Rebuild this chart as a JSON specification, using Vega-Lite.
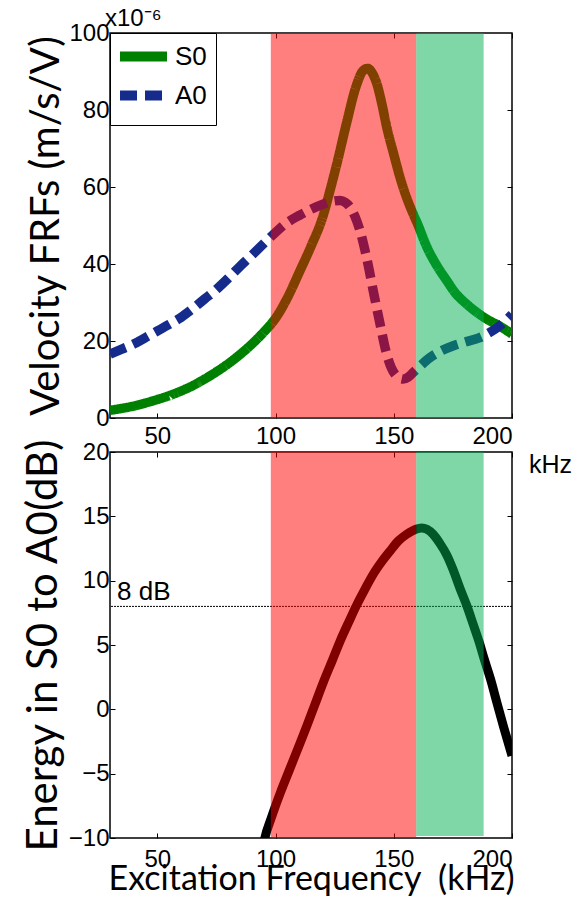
{
  "$schema": "https://vega.github.io/schema/vega-lite/v6.json",
  "background": "white",
  "padding": {"left": 21, "top": 6, "right": 0, "bottom": 0},
  "config": {
    "view": {"stroke": "black", "strokeWidth": 1.5},
    "axis": {
      "grid": false,
      "domain": false,
      "tickColor": "black",
      "tickSize": -5,
      "tickWidth": 1,
      "labelFont": "Liberation Sans",
      "labelFontSize": 24,
      "labelColor": "black",
      "titleFont": "Lato",
      "titleFontWeight": "normal",
      "titleColor": "black"
    },
    "legend": {
      "orient": "top-left",
      "offset": 0,
      "padding": 9,
      "strokeColor": "black",
      "fillColor": "white",
      "symbolType": "M-2.5,0H2.5",
      "symbolSize": 353,
      "symbolStrokeWidth": 10,
      "symbolOffset": 10,
      "labelFont": "Liberation Sans",
      "labelFontSize": 26,
      "labelColor": "black",
      "labelOffset": 17,
      "rowPadding": -2
    }
  },
  "datasets": {
    "frf": [
      {"freq": 30, "mode": "S0", "velocity": 2.0},
      {"freq": 35, "mode": "S0", "velocity": 2.5},
      {"freq": 40, "mode": "S0", "velocity": 3.1},
      {"freq": 45, "mode": "S0", "velocity": 3.9},
      {"freq": 50, "mode": "S0", "velocity": 4.8},
      {"freq": 55, "mode": "S0", "velocity": 5.8},
      {"freq": 60, "mode": "S0", "velocity": 7.0},
      {"freq": 65, "mode": "S0", "velocity": 8.4},
      {"freq": 70, "mode": "S0", "velocity": 10.1},
      {"freq": 75, "mode": "S0", "velocity": 12.0},
      {"freq": 80, "mode": "S0", "velocity": 14.1},
      {"freq": 85, "mode": "S0", "velocity": 16.5},
      {"freq": 90, "mode": "S0", "velocity": 19.2},
      {"freq": 95, "mode": "S0", "velocity": 22.3},
      {"freq": 100, "mode": "S0", "velocity": 25.9},
      {"freq": 105, "mode": "S0", "velocity": 31.2},
      {"freq": 110, "mode": "S0", "velocity": 37.8},
      {"freq": 115, "mode": "S0", "velocity": 44.6},
      {"freq": 120, "mode": "S0", "velocity": 52.3},
      {"freq": 123, "mode": "S0", "velocity": 59.0},
      {"freq": 126, "mode": "S0", "velocity": 66.2},
      {"freq": 130, "mode": "S0", "velocity": 76.5},
      {"freq": 134, "mode": "S0", "velocity": 86.0},
      {"freq": 137, "mode": "S0", "velocity": 90.2},
      {"freq": 139, "mode": "S0", "velocity": 90.8},
      {"freq": 141, "mode": "S0", "velocity": 89.5},
      {"freq": 143, "mode": "S0", "velocity": 86.5},
      {"freq": 145, "mode": "S0", "velocity": 81.5},
      {"freq": 147, "mode": "S0", "velocity": 75.6},
      {"freq": 150, "mode": "S0", "velocity": 68.5},
      {"freq": 152.6, "mode": "S0", "velocity": 62.6},
      {"freq": 155, "mode": "S0", "velocity": 58.0},
      {"freq": 158.2, "mode": "S0", "velocity": 53.0},
      {"freq": 160, "mode": "S0", "velocity": 50.5},
      {"freq": 164, "mode": "S0", "velocity": 44.4},
      {"freq": 168, "mode": "S0", "velocity": 39.8},
      {"freq": 172.4, "mode": "S0", "velocity": 35.7},
      {"freq": 176, "mode": "S0", "velocity": 32.5},
      {"freq": 180.8, "mode": "S0", "velocity": 29.6},
      {"freq": 185, "mode": "S0", "velocity": 27.5},
      {"freq": 189.3, "mode": "S0", "velocity": 25.7},
      {"freq": 195, "mode": "S0", "velocity": 23.8},
      {"freq": 200, "mode": "S0", "velocity": 21.8},
      {"freq": 30, "mode": "A0", "velocity": 16.6},
      {"freq": 35, "mode": "A0", "velocity": 17.9},
      {"freq": 40, "mode": "A0", "velocity": 19.2},
      {"freq": 45, "mode": "A0", "velocity": 20.9},
      {"freq": 50, "mode": "A0", "velocity": 22.6},
      {"freq": 55, "mode": "A0", "velocity": 24.3},
      {"freq": 60, "mode": "A0", "velocity": 26.1},
      {"freq": 65, "mode": "A0", "velocity": 28.4},
      {"freq": 70, "mode": "A0", "velocity": 30.9},
      {"freq": 75, "mode": "A0", "velocity": 33.4},
      {"freq": 80, "mode": "A0", "velocity": 36.3},
      {"freq": 85, "mode": "A0", "velocity": 39.4},
      {"freq": 90, "mode": "A0", "velocity": 42.3},
      {"freq": 95, "mode": "A0", "velocity": 45.3},
      {"freq": 100, "mode": "A0", "velocity": 48.2},
      {"freq": 105, "mode": "A0", "velocity": 50.8},
      {"freq": 110, "mode": "A0", "velocity": 52.6},
      {"freq": 115, "mode": "A0", "velocity": 54.2},
      {"freq": 119, "mode": "A0", "velocity": 55.3},
      {"freq": 124, "mode": "A0", "velocity": 56.3},
      {"freq": 127.3, "mode": "A0", "velocity": 56.5},
      {"freq": 129.5, "mode": "A0", "velocity": 56.0},
      {"freq": 131.5, "mode": "A0", "velocity": 54.8},
      {"freq": 133.5, "mode": "A0", "velocity": 52.5},
      {"freq": 135.7, "mode": "A0", "velocity": 48.7},
      {"freq": 138.5, "mode": "A0", "velocity": 41.7},
      {"freq": 141.3, "mode": "A0", "velocity": 33.1},
      {"freq": 144.2, "mode": "A0", "velocity": 24.4},
      {"freq": 147, "mode": "A0", "velocity": 16.6},
      {"freq": 149, "mode": "A0", "velocity": 13.0},
      {"freq": 150.5, "mode": "A0", "velocity": 11.4},
      {"freq": 152, "mode": "A0", "velocity": 10.5},
      {"freq": 154, "mode": "A0", "velocity": 10.1},
      {"freq": 156, "mode": "A0", "velocity": 10.6},
      {"freq": 158.2, "mode": "A0", "velocity": 11.8},
      {"freq": 161, "mode": "A0", "velocity": 13.4},
      {"freq": 165.3, "mode": "A0", "velocity": 15.7},
      {"freq": 170, "mode": "A0", "velocity": 17.4},
      {"freq": 175.2, "mode": "A0", "velocity": 18.75},
      {"freq": 180, "mode": "A0", "velocity": 19.7},
      {"freq": 186.4, "mode": "A0", "velocity": 20.9},
      {"freq": 190, "mode": "A0", "velocity": 22.0},
      {"freq": 194.9, "mode": "A0", "velocity": 24.0},
      {"freq": 200, "mode": "A0", "velocity": 26.9}
    ],
    "energy": [
      {"freq": 94.5, "ratio_db": -11.0},
      {"freq": 95.5, "ratio_db": -10.0},
      {"freq": 98.1, "ratio_db": -8.5},
      {"freq": 102, "ratio_db": -6.5},
      {"freq": 106.1, "ratio_db": -4.6},
      {"freq": 110, "ratio_db": -2.8},
      {"freq": 113.2, "ratio_db": -1.3},
      {"freq": 116.5, "ratio_db": 0.3},
      {"freq": 120.2, "ratio_db": 2.1},
      {"freq": 124, "ratio_db": 3.8},
      {"freq": 127.3, "ratio_db": 5.3},
      {"freq": 131, "ratio_db": 6.8},
      {"freq": 134.3, "ratio_db": 8.1},
      {"freq": 138, "ratio_db": 9.4},
      {"freq": 141.3, "ratio_db": 10.5},
      {"freq": 145, "ratio_db": 11.5},
      {"freq": 148.4, "ratio_db": 12.3},
      {"freq": 152, "ratio_db": 13.1},
      {"freq": 155.4, "ratio_db": 13.6},
      {"freq": 159.3, "ratio_db": 14.0},
      {"freq": 161.8, "ratio_db": 14.1},
      {"freq": 164, "ratio_db": 14.0},
      {"freq": 166.7, "ratio_db": 13.6},
      {"freq": 169.5, "ratio_db": 12.9},
      {"freq": 172.4, "ratio_db": 12.0},
      {"freq": 175, "ratio_db": 10.9},
      {"freq": 178, "ratio_db": 9.4},
      {"freq": 181, "ratio_db": 8.0},
      {"freq": 183.6, "ratio_db": 6.6},
      {"freq": 186, "ratio_db": 5.3},
      {"freq": 188.1, "ratio_db": 4.0},
      {"freq": 191, "ratio_db": 2.3},
      {"freq": 193.5, "ratio_db": 0.6},
      {"freq": 196.5, "ratio_db": -1.4},
      {"freq": 200, "ratio_db": -3.6}
    ],
    "bands": [
      {"zone": "lower", "f_start": 98, "f_end": 159.5},
      {"zone": "upper", "f_start": 159.5, "f_end": 188}
    ],
    "threshold": [
      {"level_db": 8, "label": "8 dB"}
    ],
    "unit": [
      {"label": "kHz"}
    ]
  },
  "spacing": 34,
  "bounds": "flush",
  "resolve": {
    "scale": {"color": "independent", "strokeDash": "independent"},
    "legend": {"color": "independent", "strokeDash": "independent"}
  },
  "vconcat": [
    {
      "width": 402,
      "height": 385,
      "title": {
        "text": "x10⁻⁶",
        "anchor": "start",
        "frame": "group",
        "baseline": "alphabetic",
        "dx": -5,
        "offset": -29,
        "font": "Liberation Sans",
        "fontSize": 24,
        "fontWeight": "normal",
        "color": "black"
      },
      "resolve": {"axis": {"x": "independent", "y": "independent"}},
      "layer": [
        {
          "data": {"name": "frf"},
          "mark": {"type": "line", "strokeWidth": 9.5, "clip": true, "interpolate": "monotone", "strokeCap": "butt"},
          "encoding": {
            "x": {
              "field": "freq",
              "type": "quantitative",
              "scale": {"domain": [30, 200], "nice": false, "zero": false},
              "axis": {"orient": "bottom", "values": [50, 100, 150, 200], "title": null, "labelPadding": 11}
            },
            "y": {
              "field": "velocity",
              "type": "quantitative",
              "scale": {"domain": [0, 100], "nice": false},
              "axis": {
                "orient": "left",
                "values": [0, 20, 40, 60, 80, 100],
                "title": "Velocity FRFs (m/s/V)",
                "titleFontSize": 40,
                "titlePadding": 2,
                "labelPadding": 6
              }
            },
            "color": {
              "field": "mode",
              "type": "nominal",
              "scale": {"domain": ["S0", "A0"], "range": ["#008000", "#162c8c"]},
              "legend": {"title": null}
            },
            "strokeDash": {
              "field": "mode",
              "type": "nominal",
              "scale": {"domain": ["S0", "A0"], "range": [[1, 0], [17, 8]]},
              "legend": {"title": null}
            }
          }
        },
        {
          "data": {"name": "bands"},
          "transform": [{"filter": "datum.zone === 'lower'"}],
          "mark": {"type": "rect", "color": "#ff0000", "opacity": 0.5},
          "encoding": {
            "x": {
              "field": "f_start",
              "type": "quantitative",
              "axis": {"orient": "top", "values": [50, 100, 150, 200], "labels": false, "title": null}
            },
            "x2": {"field": "f_end"},
            "y": {
              "datum": 0,
              "type": "quantitative",
              "axis": {"orient": "right", "values": [20, 40, 60, 80], "labels": false, "title": null}
            },
            "y2": {"datum": 100}
          }
        },
        {
          "data": {"name": "bands"},
          "transform": [{"filter": "datum.zone === 'upper'"}],
          "mark": {"type": "rect", "color": "#00ad4f", "opacity": 0.5},
          "encoding": {
            "x": {"field": "f_start", "type": "quantitative", "axis": null},
            "x2": {"field": "f_end"},
            "y": {"datum": 0, "type": "quantitative", "axis": null},
            "y2": {"datum": 100}
          }
        }
      ]
    },
    {
      "width": 402,
      "height": 386,
      "resolve": {"axis": {"x": "independent", "y": "independent"}},
      "layer": [
        {
          "data": {"name": "energy"},
          "mark": {"type": "line", "color": "black", "strokeWidth": 9, "clip": true, "interpolate": "monotone"},
          "encoding": {
            "x": {
              "field": "freq",
              "type": "quantitative",
              "scale": {"domain": [30, 200], "nice": false, "zero": false},
              "axis": {
                "orient": "bottom",
                "values": [50, 100, 150, 200],
                "title": "Excitation Frequency\u00a0\u00a0(kHz)",
                "titleFontSize": 34,
                "titlePadding": -9,
                "labelPadding": 14
              }
            },
            "y": {
              "field": "ratio_db",
              "type": "quantitative",
              "scale": {"domain": [-10, 20], "nice": false, "zero": false},
              "axis": {
                "orient": "left",
                "values": [-10, -5, 0, 5, 10, 15, 20],
                "title": "Energy in S0 to A0(dB)",
                "titleFontSize": 42,
                "titlePadding": 3,
                "labelPadding": 6
              }
            }
          }
        },
        {
          "data": {"name": "threshold"},
          "mark": {"type": "rule", "color": "black", "strokeWidth": 1, "strokeDash": [2, 1]},
          "encoding": {
            "y": {"field": "level_db", "type": "quantitative", "axis": {"orient": "right", "values": [-5, 0, 5, 10, 15], "labels": false, "title": null}}
          }
        },
        {
          "data": {"name": "threshold"},
          "mark": {"type": "text", "align": "left", "baseline": "alphabetic", "dx": 7, "dy": -6, "font": "Liberation Sans", "fontSize": 26, "color": "black"},
          "encoding": {
            "x": {"datum": 30, "type": "quantitative", "axis": null},
            "y": {"field": "level_db", "type": "quantitative", "axis": null},
            "text": {"field": "label"}
          }
        },
        {
          "data": {"name": "bands"},
          "transform": [{"filter": "datum.zone === 'lower'"}],
          "mark": {"type": "rect", "color": "#ff0000", "opacity": 0.5},
          "encoding": {
            "x": {
              "field": "f_start",
              "type": "quantitative",
              "axis": {"orient": "top", "values": [50, 100, 150, 200], "labels": false, "title": null}
            },
            "x2": {"field": "f_end"},
            "y": {"datum": -10, "type": "quantitative", "axis": null},
            "y2": {"datum": 20}
          }
        },
        {
          "data": {"name": "bands"},
          "transform": [{"filter": "datum.zone === 'upper'"}],
          "mark": {"type": "rect", "color": "#00ad4f", "opacity": 0.5},
          "encoding": {
            "x": {"field": "f_start", "type": "quantitative", "axis": null},
            "x2": {"field": "f_end"},
            "y": {"datum": -9.85, "type": "quantitative", "axis": null},
            "y2": {"datum": 20}
          }
        },
        {
          "data": {"name": "unit"},
          "mark": {"type": "text", "align": "left", "baseline": "alphabetic", "dx": 17, "dy": 21, "font": "Liberation Sans", "fontSize": 25, "color": "black"},
          "encoding": {
            "x": {"datum": 200, "type": "quantitative", "axis": null},
            "y": {"datum": 20, "type": "quantitative", "axis": null},
            "text": {"field": "label"}
          }
        }
      ]
    }
  ]
}
